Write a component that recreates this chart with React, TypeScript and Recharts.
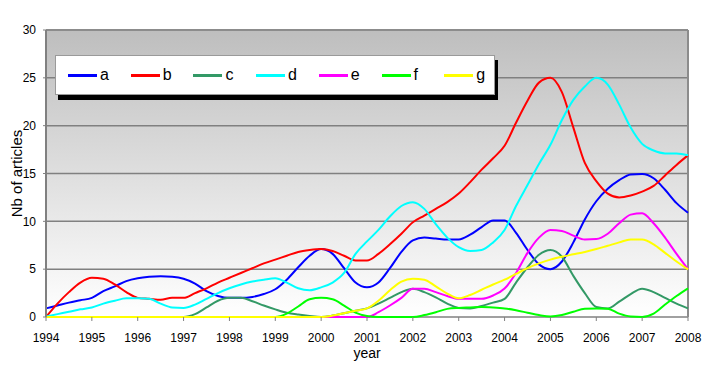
import {
  CartesianGrid,
  Legend,
  Line,
  LineChart,
  ReferenceLine,
  XAxis,
  YAxis,
} from "recharts";

// quarterly sample points
const YEARS = [
  1994, 1994.25, 1994.5, 1994.75, 1995, 1995.25, 1995.5, 1995.75, 1996,
  1996.25, 1996.5, 1996.75, 1997, 1997.25, 1997.5, 1997.75, 1998, 1998.25,
  1998.5, 1998.75, 1999, 1999.25, 1999.5, 1999.75, 2000, 2000.25, 2000.5,
  2000.75, 2001, 2001.25, 2001.5, 2001.75, 2002, 2002.25, 2002.5, 2002.75,
  2003, 2003.25, 2003.5, 2003.75, 2004, 2004.25, 2004.5, 2004.75, 2005,
  2005.25, 2005.5, 2005.75, 2006, 2006.25, 2006.5, 2006.75, 2007, 2007.25,
  2007.5, 2007.75, 2008,
];

const A = [
  0.9, 1.2, 1.5, 1.75, 2.0, 2.7, 3.2, 3.75, 4.05, 4.2, 4.25, 4.2, 4.0, 3.5,
  2.7, 2.2, 2.0, 2.0, 2.1, 2.4, 2.9, 3.9, 5.2, 6.4, 7.1, 6.6, 5.1, 3.6, 3.1,
  3.6, 5.1, 6.8, 8.0, 8.3, 8.2, 8.1, 8.1, 8.6, 9.4, 10.1, 10.1, 8.8, 7.0, 5.5,
  5.0, 5.8, 7.8, 10.2, 12.1, 13.4, 14.3, 14.9, 14.95, 14.5, 13.3, 11.9, 10.9,
];

const B = [
  0, 1.4, 2.6, 3.6, 4.1, 4.0, 3.4, 2.6, 2.0, 1.9, 1.8, 2.0, 2.0, 2.5, 3.0,
  3.6, 4.1, 4.6, 5.1, 5.6, 6.0, 6.4, 6.8, 7.0, 7.1, 6.9, 6.4, 5.9, 5.9, 6.6,
  7.6, 8.7, 9.9, 10.6, 11.3, 12.0, 12.9, 14.1, 15.4, 16.6, 17.9, 20.3, 22.6,
  24.5, 25.0, 23.5, 19.8, 16.1, 14.2, 12.9, 12.5, 12.7, 13.1, 13.7, 14.8,
  15.9, 16.9,
];

const C = [
  0, 0, 0, 0, 0, 0, 0, 0, 0, 0, 0, 0, 0, 0.3, 1.0, 1.7, 2.0, 2.0, 1.65, 1.2,
  0.8, 0.45, 0.25, 0.1, 0, 0.15, 0.4, 0.65, 0.9, 1.4, 2.0, 2.6, 2.95, 2.6,
  2.05, 1.4, 0.95, 0.9, 1.15, 1.5, 1.9, 3.6, 5.2, 6.5, 7.0, 6.3, 4.3, 2.5,
  1.05, 0.9, 1.6, 2.4, 2.95, 2.6, 2.0, 1.4, 0.9,
];

const D = [
  0.05, 0.3, 0.55, 0.8, 1.0, 1.4, 1.7, 1.95, 1.95, 1.9, 1.4, 1.0, 0.95, 1.3,
  1.9, 2.5, 3.0, 3.4, 3.7, 3.9, 4.05, 3.6, 3.0, 2.8, 3.1, 3.6, 4.6, 6.6, 7.9,
  9.1, 10.5, 11.6, 12.0, 11.3, 9.7, 8.3, 7.3, 6.9, 7.0, 7.8, 9.1, 11.6, 13.8,
  16.0, 18.0, 20.6, 22.7, 24.1, 25.0, 24.3, 22.2, 19.8, 18.1, 17.4, 17.1,
  17.1, 16.9,
];

const E = [
  0, 0, 0, 0, 0, 0, 0, 0, 0, 0, 0, 0, 0, 0, 0, 0, 0, 0, 0, 0, 0, 0, 0, 0, 0,
  0, 0, 0, 0, 0.5, 1.2, 2.0, 2.95, 2.95, 2.6, 2.2, 1.9, 1.9, 1.9, 2.25, 2.97,
  4.6, 6.7, 8.3, 9.1, 9.0, 8.5, 8.1, 8.15, 8.7, 9.8, 10.7, 10.85, 9.8, 8.3,
  6.6, 5.0,
];

const F = [
  0, 0, 0, 0, 0, 0, 0, 0, 0, 0, 0, 0, 0, 0, 0, 0, 0, 0, 0, 0, 0, 0.35, 1.1,
  1.85, 2.0, 1.85, 1.2, 0.45, 0.1, 0, 0, 0, 0, 0.2, 0.5, 0.85, 0.95, 1.0,
  1.05, 1.0, 0.9, 0.7, 0.45, 0.2, 0.05, 0.2, 0.55, 0.87, 0.9, 0.87, 0.35,
  0.05, 0, 0.35, 1.3, 2.2, 3.0,
];

const G = [
  0, 0, 0, 0, 0, 0, 0, 0, 0, 0, 0, 0, 0, 0, 0, 0, 0, 0, 0, 0, 0, 0, 0, 0, 0,
  0.15, 0.4, 0.65, 0.9, 1.7, 2.8, 3.7, 4.0, 3.9, 3.2, 2.45, 1.95, 2.3, 2.85,
  3.4, 3.9, 4.5, 5.1, 5.6, 6.0, 6.3, 6.55, 6.8, 7.1, 7.45, 7.8, 8.1, 8.1,
  7.6, 6.7, 5.8, 4.97,
];

const X_TICKS = [
  1994, 1995, 1996, 1997, 1998, 1999, 2000, 2001, 2002, 2003, 2004, 2005,
  2006, 2007, 2008,
];
const Y_TICKS = [0, 5, 10, 15, 20, 25, 30];

const SERIES = [
  { key: "a", color: "#0000FF" },
  { key: "b", color: "#FF0000" },
  { key: "c", color: "#339966" },
  { key: "d", color: "#00FFFF" },
  { key: "e", color: "#FF00FF" },
  { key: "f", color: "#00FF00" },
  { key: "g", color: "#FFFF00" },
];

const rows = YEARS.map((year, i) => ({
  year,
  a: A[i],
  b: B[i],
  c: C[i],
  d: D[i],
  e: E[i],
  f: F[i],
  g: G[i],
}));

const FONT = '"Liberation Sans", Arial, sans-serif';
const AXIS_GRAY = "#808080";

function LegendBox() {
  return (
    <div
      style={{
        position: "relative",
        width: 440,
        height: 40,
        boxSizing: "border-box",
        background: "#fff",
        border: "1px solid #9a9a9a",
        boxShadow: "3px 5px 0 #000",
        fontFamily: FONT,
      }}
    >
      {SERIES.map((s, i) => (
        <div
          key={s.key}
          style={{
            position: "absolute",
            left: 12 + i * 62.7,
            top: 0,
            height: 38,
            display: "flex",
            alignItems: "center",
          }}
        >
          <span
            style={{ width: 29, height: 3, background: s.color, display: "block" }}
          />
          <span style={{ marginLeft: 3, fontSize: 16, color: "#000" }}>
            {s.key}
          </span>
        </div>
      ))}
    </div>
  );
}

function YTitle(props: any) {
  const vb = props.viewBox ?? { x: 6, y: 30, width: 40, height: 287 };
  const x = vb.x + 16;
  const y = vb.y + vb.height / 2;
  return (
    <text
      x={x}
      y={y}
      transform={`rotate(-90, ${x}, ${y})`}
      textAnchor="middle"
      fontSize={15}
      fontFamily={FONT}
      fill="#000"
    >
      Nb of articles
    </text>
  );
}

function XTitle(props: any) {
  const vb = props.viewBox ?? { x: 46, y: 317, width: 642, height: 30 };
  return (
    <text
      x={vb.x + vb.width / 2}
      y={vb.y + 40.5}
      textAnchor="middle"
      fontSize={14}
      fontFamily={FONT}
      fill="#000"
    >
      year
    </text>
  );
}

export default function App() {
  return (
    <div style={{ position: "absolute", left: 0, top: 0, background: "#fff" }}>
      <LineChart
        width={713}
        height={367}
        data={rows}
        margin={{ top: 30, right: 25, bottom: 20, left: 6 }}
      >
        <defs>
          <linearGradient id="plotBg" x1="0" y1="0" x2="0" y2="1">
            <stop offset="0%" stopColor="#bebebe" />
            <stop offset="100%" stopColor="#ffffff" />
          </linearGradient>
        </defs>
        {/* the grid draws the bottom edge too, so the zero-level lines sit on top of it */}
        <CartesianGrid
          vertical={false}
          stroke={AXIS_GRAY}
          strokeWidth={1.5}
          fill="url(#plotBg)"
          fillOpacity={1}
        />
        <XAxis
          dataKey="year"
          type="number"
          domain={[1994, 2008]}
          ticks={X_TICKS}
          interval={0}
          height={30}
          tickSize={4}
          tickMargin={12}
          axisLine={false}
          tickLine={{ stroke: AXIS_GRAY }}
          tick={{ fontSize: 12, fill: "#000", fontFamily: FONT }}
          label={<XTitle />}
        />
        <YAxis
          type="number"
          domain={[0, 30]}
          ticks={Y_TICKS}
          width={40}
          tickSize={3}
          tickMargin={7}
          axisLine={{ stroke: AXIS_GRAY, strokeWidth: 2 }}
          tickLine={{ stroke: AXIS_GRAY }}
          tick={{ fontSize: 12, fill: "#000", fontFamily: FONT }}
          label={<YTitle />}
        />
        <ReferenceLine y={30} stroke="#8c8c8c" strokeWidth={2} />
        <ReferenceLine x={2008} stroke="#8c8c8c" strokeWidth={2} />
        <Legend
          content={<LegendBox />}
          layout="horizontal"
          verticalAlign="middle"
          align="center"
          width={440}
          height={40}
          wrapperStyle={{ left: 55, top: 55, width: 440, height: 40 }}
        />
        {SERIES.map((s) => (
          <Line
            key={s.key}
            dataKey={s.key}
            type="monotone"
            stroke={s.color}
            strokeWidth={2}
            dot={false}
            activeDot={false}
            isAnimationActive={false}
          />
        ))}
      </LineChart>
    </div>
  );
}
